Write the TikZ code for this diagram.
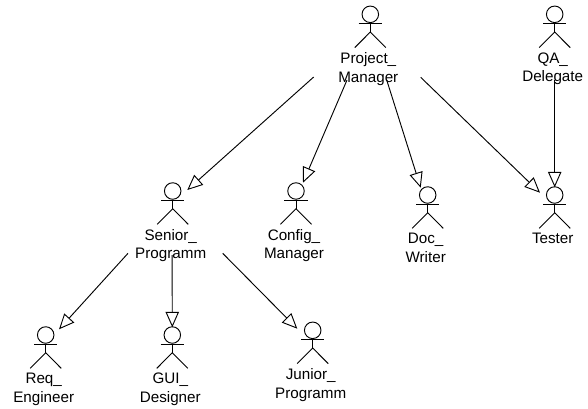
\documentclass[tikz,border=0pt]{standalone}
\usepackage{fontspec}
\setmainfont{Liberation Sans}
\usetikzlibrary{arrows.meta}
\tikzset{
  actorline/.style={line width=0.7pt, black},
  gen/.style={line width=0.7pt, -{Triangle[open, length=11.5pt, width=10pt]}},
  pics/actor/.style={code={
    \node[circle, draw, actorline, minimum size=12.4pt, inner sep=0pt] (-head) at (0,0) {};
    \draw[actorline] (-head.south) -- (0,17.7);
    \draw[actorline] (-11.7,9) -- (11.7,9);
    \draw[actorline] (-15.5,33.3) -- (0,17.7) -- (15.5,33.3);
    \node[anchor=north, inner sep=0pt, align=center, font=\fontsize{11.4}{14}\selectfont] (-label) at (-2,38) {#1};
  }}
}
\begin{document}
\begin{tikzpicture}[x=0.75pt, y=-0.75pt]
  \useasboundingbox (0,0) rectangle (588,408);
  \pic (pm) at (370.3,14.3) {actor={Project\_\\Manager}};
  \pic (qa) at (554.7,14.3) {actor={QA\_\\Delegate}};
  \pic (sr) at (172.7,191) {actor={Senior\_\\Programm}};
  \pic (cm) at (296,191) {actor={Config\_\\Manager}};
  \pic (dw) at (427.7,195) {actor={Doc\_\\Writer}};
  \pic (te) at (554.7,195) {actor={Tester}};
  \pic (re) at (45.7,335) {actor={Req\_\\Engineer}};
  \pic (gd) at (172.3,335) {actor={GUI\_\\Designer}};
  \pic (jp) at (312.7,330.3) {actor={Junior\_\\Programm}};
  % project manager
  \draw[gen] ([shift={(-56.6,62.7)}]pm-head.center) -- ([shift={(14.6,-1)}]sr-head.center);
  \draw[gen] ([shift={(-23.3,65.7)}]pm-head.center) -- ([shift={(7,-8.3)}]cm-head.center);
  \draw[gen] ([shift={(16.4,65.7)}]pm-head.center) -- ([shift={(-7,-7.3)}]dw-head.center);
  \draw[gen] ([shift={(50.4,63)}]pm-head.center) -- ([shift={(-14.7,-2.3)}]te-head.center);
  \draw[gen] ([shift={(0,65.7)}]qa-head.center) -- ([shift={(0,-7.7)}]te-head.center);
  % senior programmer
  \draw[gen] ([shift={(-44.7,62.3)}]sr-head.center) -- ([shift={(13.3,-5.7)}]re-head.center);
  \draw[gen] ([shift={(-0.6,64)}]sr-head.center) -- ([shift={(0,-7.7)}]gd-head.center);
  \draw[gen] ([shift={(50,62.3)}]sr-head.center) -- ([shift={(-15.4,-1.6)}]jp-head.center);
\end{tikzpicture}
\end{document}
